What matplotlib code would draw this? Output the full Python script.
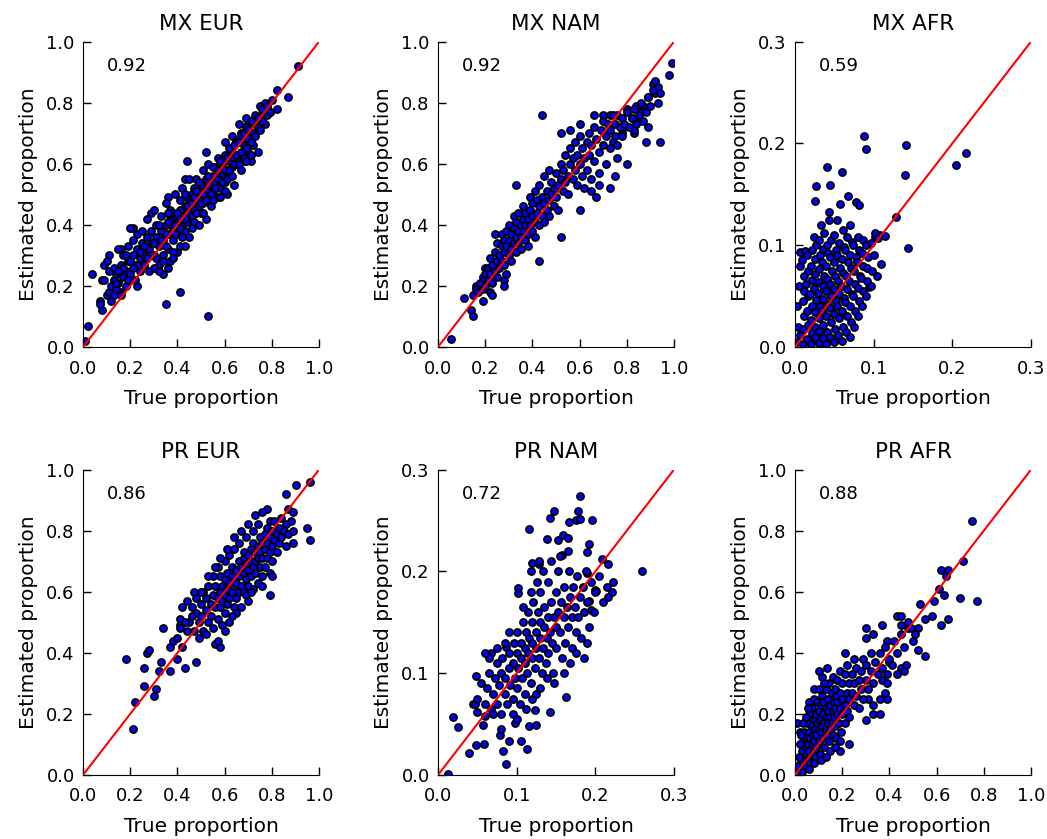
import numpy as np
import matplotlib
matplotlib.use('Agg')
import matplotlib.pyplot as plt

# (true, estimated) proportion pairs, one list per panel
mx_eur = [
    (0.91, 0.92), (0.82, 0.84), (0.87, 0.82), (0.82, 0.78), (0.79, 0.77), (0.77, 0.79), (0.76, 0.76),
    (0.69, 0.75), (0.66, 0.73), (0.70, 0.73), (0.73, 0.73), (0.77, 0.73), (0.63, 0.69), (0.60, 0.67),
    (0.65, 0.67), (0.67, 0.70), (0.71, 0.68), (0.74, 0.64), (0.71, 0.61), (0.68, 0.61), (0.52, 0.64),
    (0.44, 0.61), (0.43, 0.55), (0.36, 0.49), (0.29, 0.44), (0.21, 0.39), (0.16, 0.32), (0.11, 0.30),
    (0.04, 0.24), (0.08, 0.22), (0.07, 0.15), (0.08, 0.12), (0.02, 0.07), (0.01, 0.02), (0.41, 0.18),
    (0.35, 0.14), (0.53, 0.10), (0.23, 0.20), (0.16, 0.18), (0.12, 0.15), (0.10, 0.17),
    (0.07, 0.14), (0.09, 0.22), (0.09, 0.27), (0.10, 0.28), (0.11, 0.18), (0.11, 0.25), (0.12, 0.20),
    (0.13, 0.22), (0.13, 0.26), (0.14, 0.19), (0.14, 0.24), (0.15, 0.21), (0.15, 0.32), (0.16, 0.17),
    (0.16, 0.27), (0.17, 0.23), (0.17, 0.30), (0.18, 0.25), (0.18, 0.20), (0.19, 0.28), (0.19, 0.33),
    (0.20, 0.39), (0.20, 0.24), (0.21, 0.30), (0.21, 0.35), (0.22, 0.27), (0.22, 0.22), (0.23, 0.32),
    (0.23, 0.37), (0.24, 0.29), (0.24, 0.25), (0.25, 0.34), (0.25, 0.38), (0.26, 0.30), (0.26, 0.27),
    (0.27, 0.36), (0.27, 0.42), (0.28, 0.32), (0.28, 0.25), (0.29, 0.38), (0.29, 0.34), (0.30, 0.30),
    (0.30, 0.45), (0.31, 0.36), (0.31, 0.40), (0.32, 0.33), (0.32, 0.27), (0.33, 0.38), (0.33, 0.43),
    (0.34, 0.35), (0.34, 0.30), (0.34, 0.24), (0.35, 0.40), (0.35, 0.47), (0.36, 0.37), (0.36, 0.32),
    (0.37, 0.42), (0.37, 0.45), (0.37, 0.28), (0.38, 0.39), (0.38, 0.35), (0.39, 0.43), (0.39, 0.50),
    (0.40, 0.41), (0.40, 0.37), (0.40, 0.31), (0.41, 0.45), (0.41, 0.48), (0.42, 0.40), (0.42, 0.43),
    (0.42, 0.52), (0.43, 0.38), (0.43, 0.46), (0.44, 0.44), (0.44, 0.49), (0.44, 0.41), (0.45, 0.47),
    (0.45, 0.36), (0.45, 0.55), (0.46, 0.43), (0.46, 0.50), (0.47, 0.45), (0.47, 0.52), (0.47, 0.41),
    (0.48, 0.48), (0.48, 0.55), (0.49, 0.46), (0.49, 0.51), (0.49, 0.40), (0.50, 0.49), (0.50, 0.53),
    (0.50, 0.44), (0.51, 0.58), (0.51, 0.47), (0.52, 0.51), (0.52, 0.55), (0.52, 0.42), (0.53, 0.49),
    (0.53, 0.60), (0.54, 0.53), (0.54, 0.46), (0.55, 0.56), (0.55, 0.51), (0.56, 0.59), (0.56, 0.54),
    (0.57, 0.49), (0.57, 0.62), (0.58, 0.56), (0.58, 0.52), (0.59, 0.60), (0.59, 0.57), (0.60, 0.54),
    (0.60, 0.63), (0.61, 0.58), (0.61, 0.50), (0.62, 0.61), (0.62, 0.56), (0.63, 0.64), (0.63, 0.59),
    (0.64, 0.62), (0.64, 0.53), (0.65, 0.67), (0.65, 0.60), (0.66, 0.63), (0.67, 0.58), (0.67, 0.69),
    (0.68, 0.66), (0.68, 0.62), (0.69, 0.72), (0.70, 0.68), (0.70, 0.64), (0.71, 0.74), (0.72, 0.70),
    (0.72, 0.66), (0.73, 0.76), (0.74, 0.72), (0.75, 0.79), (0.76, 0.74), (0.77, 0.80), (0.78, 0.76),
    (0.80, 0.81), (0.36, 0.41), (0.38, 0.44), (0.39, 0.37), (0.41, 0.39), (0.43, 0.42), (0.43, 0.50),
    (0.44, 0.46), (0.46, 0.47), (0.46, 0.39), (0.47, 0.49), (0.48, 0.44), (0.48, 0.51), (0.49, 0.54),
    (0.50, 0.47), (0.51, 0.50), (0.51, 0.44), (0.52, 0.48), (0.53, 0.53), (0.53, 0.56), (0.54, 0.50),
    (0.55, 0.48), (0.55, 0.59), (0.56, 0.52), (0.57, 0.55), (0.57, 0.58), (0.58, 0.61), (0.58, 0.49),
    (0.59, 0.54), (0.60, 0.58), (0.60, 0.51), (0.61, 0.62), (0.61, 0.55), (0.62, 0.58), (0.62, 0.65),
    (0.63, 0.56), (0.64, 0.60), (0.64, 0.66), (0.65, 0.63), (0.66, 0.60), (0.66, 0.67), (0.67, 0.64),
    (0.68, 0.70), (0.69, 0.65), (0.69, 0.61), (0.70, 0.71), (0.71, 0.67), (0.71, 0.63), (0.73, 0.69),
    (0.74, 0.75), (0.75, 0.71), (0.76, 0.78), (0.78, 0.79), (0.79, 0.77), (0.30, 0.34), (0.31, 0.29),
    (0.33, 0.35), (0.35, 0.33), (0.35, 0.37), (0.36, 0.44), (0.38, 0.31), (0.39, 0.40), (0.40, 0.44),
    (0.41, 0.42), (0.42, 0.36), (0.32, 0.40), (0.29, 0.30), (0.27, 0.29), (0.26, 0.33), (0.24, 0.31),
    (0.23, 0.27), (0.21, 0.26), (0.20, 0.28), (0.19, 0.22), (0.18, 0.30), (0.17, 0.26), (0.15, 0.25),
    (0.14, 0.21), (0.13, 0.17), (0.30, 0.26), (0.32, 0.25), (0.34, 0.28), (0.36, 0.26), (0.38, 0.29),
    (0.41, 0.33), (0.43, 0.33),
]

mx_nam = [
    (0.055, 0.026), (0.11, 0.16), (0.14, 0.12), (0.15, 0.10), (0.19, 0.15), (0.16, 0.20), (0.18, 0.19),
    (0.22, 0.18), (0.23, 0.17), (0.20, 0.26), (0.22, 0.24), (0.28, 0.22), (0.28, 0.20), (0.29, 0.24),
    (0.24, 0.37), (0.33, 0.53), (0.44, 0.76), (0.43, 0.28), (0.52, 0.36), (0.60, 0.45), (0.52, 0.70),
    (0.56, 0.71), (0.60, 0.73), (0.66, 0.76), (0.70, 0.76), (0.73, 0.76), (0.76, 0.76), (0.99, 0.93),
    (0.98, 0.89), (0.91, 0.86), (0.92, 0.83), (0.89, 0.82), (0.93, 0.80), (0.87, 0.79), (0.84, 0.79),
    (0.80, 0.78), (0.86, 0.77), (0.89, 0.72), (0.94, 0.67), (0.88, 0.67), (0.83, 0.70), (0.78, 0.70),
    (0.74, 0.67), (0.80, 0.60), (0.76, 0.62), (0.75, 0.56), (0.73, 0.52), (0.68, 0.53), (0.67, 0.49),
    (0.65, 0.51), (0.82, 0.75), (0.85, 0.74), (0.79, 0.72), (0.83, 0.71),
    (0.15, 0.17), (0.16, 0.19), (0.17, 0.18), (0.18, 0.21), (0.19, 0.19), (0.19, 0.23), (0.20, 0.20),
    (0.20, 0.24), (0.21, 0.22), (0.21, 0.26), (0.22, 0.24), (0.22, 0.29), (0.23, 0.21), (0.23, 0.27),
    (0.24, 0.25), (0.24, 0.31), (0.25, 0.23), (0.25, 0.28), (0.25, 0.34), (0.26, 0.26), (0.26, 0.30),
    (0.27, 0.33), (0.27, 0.28), (0.27, 0.37), (0.28, 0.31), (0.28, 0.35), (0.28, 0.27), (0.29, 0.33),
    (0.29, 0.38), (0.30, 0.30), (0.30, 0.35), (0.30, 0.40), (0.31, 0.32), (0.31, 0.37), (0.31, 0.28),
    (0.32, 0.34), (0.32, 0.39), (0.32, 0.43), (0.33, 0.36), (0.33, 0.31), (0.33, 0.41), (0.34, 0.38),
    (0.34, 0.34), (0.34, 0.44), (0.35, 0.36), (0.35, 0.40), (0.35, 0.32), (0.36, 0.42), (0.36, 0.38),
    (0.36, 0.46), (0.37, 0.35), (0.37, 0.40), (0.37, 0.44), (0.38, 0.37), (0.38, 0.42), (0.38, 0.33),
    (0.39, 0.45), (0.39, 0.40), (0.39, 0.49), (0.40, 0.38), (0.40, 0.43), (0.40, 0.47), (0.41, 0.41),
    (0.41, 0.36), (0.41, 0.51), (0.42, 0.44), (0.42, 0.48), (0.43, 0.40), (0.43, 0.46), (0.43, 0.53),
    (0.44, 0.43), (0.44, 0.49), (0.45, 0.47), (0.45, 0.41), (0.45, 0.56), (0.46, 0.45), (0.46, 0.51),
    (0.47, 0.48), (0.47, 0.43), (0.47, 0.58), (0.48, 0.50), (0.48, 0.54), (0.49, 0.46), (0.49, 0.52),
    (0.50, 0.49), (0.50, 0.57), (0.51, 0.53), (0.51, 0.45), (0.52, 0.55), (0.52, 0.60), (0.53, 0.51),
    (0.53, 0.58), (0.54, 0.54), (0.54, 0.63), (0.55, 0.56), (0.55, 0.50), (0.56, 0.60), (0.56, 0.65),
    (0.57, 0.55), (0.57, 0.62), (0.58, 0.58), (0.58, 0.67), (0.59, 0.53), (0.59, 0.63), (0.60, 0.60),
    (0.60, 0.69), (0.61, 0.56), (0.61, 0.65), (0.62, 0.62), (0.62, 0.52), (0.63, 0.67), (0.63, 0.58),
    (0.64, 0.70), (0.64, 0.63), (0.65, 0.55), (0.65, 0.66), (0.66, 0.72), (0.66, 0.61), (0.67, 0.68),
    (0.68, 0.57), (0.68, 0.64), (0.69, 0.71), (0.70, 0.66), (0.70, 0.74), (0.71, 0.60), (0.71, 0.69),
    (0.72, 0.73), (0.73, 0.65), (0.73, 0.71), (0.74, 0.76), (0.75, 0.69), (0.75, 0.73), (0.76, 0.66),
    (0.77, 0.72), (0.78, 0.75), (0.78, 0.69), (0.79, 0.73), (0.80, 0.77), (0.81, 0.72), (0.82, 0.75),
    (0.83, 0.78), (0.84, 0.73), (0.85, 0.76), (0.86, 0.80), (0.87, 0.74), (0.88, 0.77), (0.89, 0.82),
    (0.90, 0.79), (0.91, 0.84), (0.92, 0.87), (0.93, 0.85), (0.94, 0.83),
]

mx_afr = [
    (0.088, 0.207), (0.090, 0.194), (0.141, 0.198), (0.140, 0.169), (0.143, 0.097), (0.205, 0.179),
    (0.217, 0.191), (0.128, 0.128), (0.041, 0.177), (0.060, 0.172), (0.027, 0.158), (0.045, 0.159),
    (0.026, 0.143), (0.057, 0.140), (0.067, 0.148), (0.078, 0.142), (0.081, 0.139), (0.043, 0.133),
    (0.108, 0.110), (0.115, 0.109), (0.102, 0.108), (0.109, 0.082), (0.104, 0.070), (0.094, 0.059),
    (0.006, 0.093), (0.013, 0.094), (0.006, 0.080),
    (0.003, 0.005), (0.004, 0.020), (0.003, 0.040), (0.005, 0.060), (0.006, 0.012),
    (0.010, 0.003), (0.010, 0.018), (0.011, 0.030), (0.010, 0.045), (0.012, 0.055), (0.011, 0.070),
    (0.009, 0.085), (0.015, 0.008), (0.016, 0.022), (0.015, 0.035), (0.016, 0.050), (0.014, 0.062),
    (0.017, 0.075), (0.015, 0.090), (0.020, 0.003), (0.021, 0.014), (0.020, 0.027), (0.022, 0.040),
    (0.019, 0.052), (0.021, 0.066), (0.020, 0.080), (0.022, 0.095), (0.024, 0.108), (0.025, 0.010),
    (0.026, 0.020), (0.025, 0.034), (0.027, 0.046), (0.024, 0.058), (0.026, 0.072), (0.025, 0.086),
    (0.027, 0.100), (0.030, 0.004), (0.031, 0.016), (0.030, 0.028), (0.032, 0.040), (0.029, 0.053),
    (0.031, 0.064), (0.030, 0.077), (0.032, 0.090), (0.031, 0.105), (0.033, 0.120), (0.035, 0.009),
    (0.036, 0.022), (0.034, 0.035), (0.036, 0.047), (0.035, 0.060), (0.037, 0.070), (0.034, 0.083),
    (0.036, 0.096), (0.037, 0.112), (0.040, 0.003), (0.041, 0.015), (0.040, 0.030), (0.042, 0.042),
    (0.039, 0.055), (0.041, 0.067), (0.040, 0.080), (0.042, 0.092), (0.041, 0.100), (0.043, 0.125),
    (0.045, 0.010), (0.046, 0.025), (0.044, 0.038), (0.046, 0.050), (0.045, 0.062), (0.047, 0.075),
    (0.044, 0.088), (0.046, 0.105), (0.050, 0.005), (0.051, 0.018), (0.050, 0.032), (0.052, 0.045),
    (0.049, 0.057), (0.051, 0.070), (0.050, 0.083), (0.052, 0.095), (0.050, 0.110), (0.053, 0.125),
    (0.055, 0.012), (0.056, 0.028), (0.054, 0.040), (0.056, 0.052), (0.055, 0.065), (0.057, 0.078),
    (0.054, 0.090), (0.056, 0.102), (0.060, 0.006), (0.061, 0.020), (0.060, 0.035), (0.062, 0.048),
    (0.059, 0.060), (0.061, 0.073), (0.060, 0.086), (0.062, 0.098), (0.061, 0.115), (0.065, 0.015),
    (0.066, 0.030), (0.064, 0.044), (0.066, 0.057), (0.065, 0.070), (0.067, 0.083), (0.064, 0.095),
    (0.066, 0.108), (0.070, 0.010), (0.071, 0.025), (0.070, 0.040), (0.072, 0.052), (0.069, 0.065),
    (0.071, 0.078), (0.070, 0.090), (0.072, 0.103), (0.070, 0.120), (0.075, 0.020), (0.076, 0.035),
    (0.074, 0.050), (0.076, 0.062), (0.075, 0.075), (0.077, 0.088), (0.074, 0.100), (0.080, 0.030),
    (0.081, 0.045), (0.080, 0.058), (0.082, 0.070), (0.079, 0.083), (0.081, 0.095), (0.080, 0.108),
    (0.085, 0.040), (0.086, 0.055), (0.084, 0.068), (0.086, 0.080), (0.085, 0.092), (0.087, 0.105),
    (0.090, 0.050), (0.092, 0.065), (0.091, 0.078), (0.093, 0.088), (0.090, 0.100), (0.096, 0.060),
    (0.098, 0.075), (0.100, 0.090), (0.097, 0.102), (0.102, 0.112), (0.105, 0.107),
]

pr_eur = [
    (0.96, 0.96), (0.90, 0.95), (0.86, 0.92), (0.78, 0.87), (0.87, 0.87), (0.89, 0.86), (0.95, 0.81),
    (0.96, 0.77), (0.89, 0.76), (0.79, 0.83), (0.18, 0.38), (0.21, 0.15), (0.22, 0.24), (0.26, 0.35),
    (0.27, 0.40), (0.28, 0.41), (0.26, 0.29), (0.30, 0.26), (0.31, 0.28), (0.32, 0.34), (0.33, 0.37),
    (0.37, 0.34), (0.37, 0.42), (0.38, 0.44), (0.40, 0.45), (0.40, 0.38), (0.42, 0.42), (0.43, 0.35),
    (0.48, 0.37), (0.34, 0.48), (0.41, 0.51), (0.41, 0.49), (0.56, 0.43), (0.58, 0.42), (0.79, 0.59),
    (0.45, 0.50), (0.46, 0.55), (0.47, 0.47), (0.48, 0.53), (0.48, 0.58), (0.49, 0.50), (0.50, 0.56),
    (0.50, 0.52), (0.51, 0.60), (0.51, 0.47), (0.52, 0.54), (0.52, 0.58), (0.53, 0.50), (0.53, 0.62),
    (0.54, 0.56), (0.54, 0.52), (0.55, 0.59), (0.55, 0.65), (0.55, 0.48), (0.56, 0.55), (0.56, 0.62),
    (0.57, 0.58), (0.57, 0.51), (0.57, 0.68), (0.58, 0.60), (0.58, 0.55), (0.58, 0.65), (0.59, 0.62),
    (0.59, 0.49), (0.59, 0.57), (0.60, 0.64), (0.60, 0.59), (0.60, 0.70), (0.60, 0.53), (0.61, 0.61),
    (0.61, 0.66), (0.61, 0.56), (0.62, 0.63), (0.62, 0.58), (0.62, 0.72), (0.62, 0.50), (0.63, 0.65),
    (0.63, 0.60), (0.63, 0.68), (0.64, 0.62), (0.64, 0.55), (0.64, 0.74), (0.65, 0.67), (0.65, 0.63),
    (0.65, 0.58), (0.66, 0.70), (0.66, 0.65), (0.66, 0.60), (0.66, 0.76), (0.67, 0.68), (0.67, 0.62),
    (0.67, 0.55), (0.68, 0.71), (0.68, 0.66), (0.68, 0.73), (0.68, 0.60), (0.69, 0.69), (0.69, 0.64),
    (0.69, 0.78), (0.70, 0.72), (0.70, 0.67), (0.70, 0.62), (0.70, 0.57), (0.71, 0.74), (0.71, 0.70),
    (0.71, 0.65), (0.72, 0.76), (0.72, 0.68), (0.72, 0.61), (0.72, 0.80), (0.73, 0.73), (0.73, 0.70),
    (0.73, 0.66), (0.74, 0.75), (0.74, 0.71), (0.74, 0.63), (0.74, 0.82), (0.75, 0.78), (0.75, 0.73),
    (0.75, 0.68), (0.76, 0.76), (0.76, 0.71), (0.76, 0.65), (0.77, 0.79), (0.77, 0.74), (0.77, 0.68),
    (0.78, 0.81), (0.78, 0.76), (0.78, 0.71), (0.79, 0.78), (0.79, 0.73), (0.79, 0.66), (0.80, 0.80),
    (0.80, 0.75), (0.80, 0.70), (0.81, 0.83), (0.81, 0.77), (0.82, 0.79), (0.82, 0.73), (0.83, 0.81),
    (0.83, 0.76), (0.84, 0.84), (0.84, 0.78), (0.85, 0.80), (0.86, 0.82), (0.86, 0.75), (0.87, 0.79),
    (0.88, 0.83), (0.89, 0.80), (0.69, 0.59), (0.65, 0.53), (0.71, 0.60), (0.60, 0.47), (0.63, 0.52),
    (0.57, 0.44), (0.76, 0.62), (0.80, 0.65), (0.58, 0.71), (0.61, 0.74), (0.56, 0.68), (0.53, 0.65),
    (0.64, 0.78), (0.67, 0.80), (0.70, 0.82), (0.73, 0.85), (0.76, 0.86), (0.42, 0.55), (0.43, 0.50),
    (0.44, 0.57), (0.46, 0.52), (0.47, 0.60), (0.44, 0.47), (0.41, 0.48), (0.49, 0.45), (0.52, 0.46),
    (0.50, 0.60),
]

pr_nam = [
    (0.013, 0.001), (0.019, 0.057), (0.025, 0.047), (0.039, 0.022), (0.048, 0.029), (0.058, 0.030),
    (0.083, 0.024), (0.086, 0.011), (0.090, 0.033), (0.105, 0.033), (0.113, 0.026), (0.079, 0.039),
    (0.116, 0.048), (0.125, 0.049), (0.098, 0.051), (0.044, 0.070), (0.047, 0.070), (0.050, 0.062),
    (0.060, 0.058), (0.057, 0.049), (0.048, 0.097), (0.068, 0.120), (0.087, 0.126), (0.102, 0.179),
    (0.102, 0.184), (0.116, 0.242), (0.119, 0.208), (0.129, 0.207), (0.138, 0.232), (0.142, 0.252),
    (0.148, 0.259), (0.152, 0.231), (0.159, 0.236), (0.165, 0.233), (0.157, 0.216), (0.167, 0.248),
    (0.176, 0.250), (0.180, 0.251), (0.178, 0.259), (0.181, 0.274), (0.196, 0.250), (0.192, 0.227),
    (0.190, 0.219), (0.190, 0.198), (0.209, 0.212), (0.216, 0.207), (0.222, 0.190), (0.221, 0.180),
    (0.216, 0.175), (0.199, 0.182), (0.201, 0.181), (0.259, 0.200), (0.192, 0.171), (0.194, 0.162),
    (0.163, 0.077), (0.142, 0.062), (0.123, 0.064),
    (0.050, 0.075), (0.055, 0.090), (0.060, 0.070), (0.062, 0.085), (0.065, 0.100), (0.068, 0.065),
    (0.070, 0.080), (0.072, 0.095), (0.075, 0.110), (0.075, 0.070), (0.078, 0.088), (0.080, 0.100),
    (0.080, 0.060), (0.082, 0.115), (0.085, 0.080), (0.085, 0.095), (0.088, 0.070), (0.090, 0.105),
    (0.090, 0.120), (0.092, 0.088), (0.095, 0.075), (0.095, 0.110), (0.097, 0.130), (0.098, 0.095),
    (0.100, 0.085), (0.100, 0.120), (0.100, 0.140), (0.102, 0.105), (0.104, 0.070), (0.105, 0.115),
    (0.105, 0.130), (0.107, 0.095), (0.108, 0.150), (0.110, 0.110), (0.110, 0.125), (0.110, 0.080),
    (0.112, 0.140), (0.113, 0.100), (0.115, 0.120), (0.115, 0.160), (0.116, 0.135), (0.118, 0.090),
    (0.120, 0.115), (0.120, 0.130), (0.120, 0.150), (0.121, 0.170), (0.123, 0.105), (0.124, 0.140),
    (0.125, 0.125), (0.125, 0.080), (0.127, 0.160), (0.128, 0.115), (0.130, 0.135), (0.130, 0.150),
    (0.130, 0.180), (0.132, 0.100), (0.133, 0.125), (0.135, 0.145), (0.135, 0.165), (0.137, 0.110),
    (0.138, 0.135), (0.140, 0.155), (0.140, 0.120), (0.140, 0.190), (0.142, 0.140), (0.144, 0.170),
    (0.145, 0.130), (0.146, 0.100), (0.147, 0.155), (0.150, 0.145), (0.150, 0.180), (0.150, 0.125),
    (0.152, 0.200), (0.153, 0.160), (0.155, 0.140), (0.156, 0.170), (0.158, 0.115), (0.160, 0.155),
    (0.160, 0.185), (0.162, 0.130), (0.164, 0.165), (0.165, 0.145), (0.167, 0.200), (0.168, 0.175),
    (0.170, 0.155), (0.170, 0.125), (0.172, 0.185), (0.174, 0.165), (0.175, 0.140), (0.177, 0.195),
    (0.178, 0.155), (0.180, 0.175), (0.182, 0.135), (0.184, 0.185), (0.185, 0.160), (0.188, 0.200),
    (0.190, 0.170), (0.192, 0.145), (0.195, 0.190), (0.198, 0.160), (0.200, 0.180), (0.205, 0.195),
    (0.210, 0.170), (0.215, 0.185), (0.108, 0.165), (0.118, 0.180), (0.126, 0.190), (0.134, 0.200),
    (0.143, 0.210), (0.155, 0.215), (0.165, 0.220), (0.128, 0.210), (0.118, 0.200), (0.085, 0.130),
    (0.090, 0.140), (0.075, 0.125), (0.065, 0.115), (0.060, 0.120), (0.070, 0.060), (0.080, 0.045),
    (0.095, 0.060), (0.100, 0.055), (0.112, 0.065), (0.120, 0.075), (0.130, 0.085), (0.138, 0.095),
    (0.148, 0.090), (0.160, 0.100), (0.168, 0.110), (0.175, 0.120), (0.185, 0.115), (0.190, 0.130),
]

pr_afr = [
    (0.75, 0.83), (0.71, 0.70), (0.77, 0.57), (0.70, 0.58), (0.65, 0.67), (0.62, 0.67), (0.64, 0.65),
    (0.61, 0.61), (0.63, 0.59), (0.59, 0.57), (0.65, 0.51), (0.62, 0.49), (0.58, 0.52), (0.55, 0.51),
    (0.53, 0.56), (0.55, 0.39), (0.52, 0.41), (0.43, 0.52), (0.45, 0.52), (0.37, 0.49), (0.30, 0.48),
    (0.30, 0.45), (0.33, 0.46), (0.39, 0.44), (0.45, 0.49), (0.48, 0.48), (0.49, 0.48), (0.52, 0.48),
    (0.51, 0.46), (0.21, 0.40), (0.10, 0.34), (0.06, 0.24), (0.08, 0.28), (0.01, 0.17), (0.02, 0.14),
    (0.30, 0.18), (0.33, 0.20), (0.36, 0.20), (0.23, 0.10), (0.19, 0.08), (0.40, 0.37), (0.41, 0.36),
    (0.45, 0.35), (0.47, 0.36), (0.46, 0.34), (0.43, 0.33), (0.39, 0.33), (0.37, 0.31), (0.39, 0.25),
    (0.36, 0.25), (0.38, 0.27), (0.33, 0.23), (0.31, 0.25),
    (0.020, 0.02), (0.025, 0.05), (0.030, 0.01), (0.030, 0.08), (0.035, 0.04), (0.035, 0.11),
    (0.040, 0.06), (0.040, 0.14), (0.045, 0.09), (0.045, 0.03), (0.050, 0.12), (0.050, 0.07),
    (0.050, 0.17), (0.055, 0.10), (0.055, 0.05), (0.060, 0.14), (0.060, 0.08), (0.060, 0.20),
    (0.065, 0.12), (0.065, 0.04), (0.070, 0.16), (0.070, 0.10), (0.070, 0.22), (0.075, 0.13),
    (0.075, 0.07), (0.080, 0.18), (0.080, 0.11), (0.080, 0.25), (0.085, 0.15), (0.085, 0.06),
    (0.090, 0.20), (0.090, 0.13), (0.090, 0.09), (0.095, 0.17), (0.095, 0.24), (0.100, 0.15),
    (0.100, 0.21), (0.100, 0.11), (0.100, 0.28), (0.105, 0.18), (0.105, 0.07), (0.110, 0.14),
    (0.110, 0.23), (0.110, 0.19), (0.115, 0.16), (0.115, 0.26), (0.120, 0.12), (0.120, 0.20),
    (0.120, 0.24), (0.125, 0.17), (0.125, 0.09), (0.130, 0.22), (0.130, 0.15), (0.130, 0.28),
    (0.135, 0.19), (0.135, 0.13), (0.140, 0.25), (0.140, 0.17), (0.140, 0.21), (0.145, 0.11),
    (0.145, 0.30), (0.150, 0.19), (0.150, 0.23), (0.150, 0.15), (0.155, 0.27), (0.155, 0.17),
    (0.160, 0.21), (0.160, 0.13), (0.160, 0.32), (0.165, 0.24), (0.165, 0.19), (0.170, 0.16),
    (0.170, 0.28), (0.170, 0.22), (0.175, 0.26), (0.175, 0.12), (0.180, 0.20), (0.180, 0.31),
    (0.180, 0.24), (0.185, 0.17), (0.190, 0.27), (0.190, 0.22), (0.190, 0.34), (0.195, 0.14),
    (0.200, 0.25), (0.200, 0.20), (0.200, 0.30), (0.210, 0.23), (0.210, 0.33), (0.210, 0.17),
    (0.220, 0.27), (0.220, 0.21), (0.220, 0.36), (0.230, 0.30), (0.230, 0.25), (0.230, 0.19),
    (0.240, 0.33), (0.240, 0.27), (0.250, 0.23), (0.250, 0.30), (0.250, 0.38), (0.260, 0.26),
    (0.260, 0.35), (0.270, 0.31), (0.270, 0.22), (0.280, 0.34), (0.280, 0.28), (0.290, 0.38),
    (0.290, 0.25), (0.300, 0.31), (0.300, 0.36), (0.310, 0.28), (0.320, 0.34), (0.320, 0.40),
    (0.330, 0.30), (0.340, 0.37), (0.350, 0.33), (0.360, 0.40), (0.370, 0.35), (0.380, 0.42),
    (0.390, 0.30), (0.400, 0.38), (0.420, 0.44), (0.430, 0.40), (0.450, 0.46), (0.460, 0.42),
    (0.480, 0.50), (0.500, 0.44), (0.060, 0.02), (0.080, 0.04), (0.110, 0.05), (0.130, 0.06),
    (0.150, 0.08), (0.170, 0.09), (0.190, 0.11), (0.115, 0.32), (0.125, 0.30), (0.135, 0.35),
    (0.045, 0.19), (0.055, 0.22), (0.035, 0.17), (0.020, 0.10), (0.025, 0.13), (0.015, 0.06),
    (0.010, 0.03), (0.005, 0.005),
]

panels = [
    ('MX EUR', mx_eur, 1.0, '0.92'),
    ('MX NAM', mx_nam, 1.0, '0.92'),
    ('MX AFR', mx_afr, 0.3, '0.59'),
    ('PR EUR', pr_eur, 1.0, '0.86'),
    ('PR NAM', pr_nam, 0.3, '0.72'),
    ('PR AFR', pr_afr, 1.0, '0.88'),
]

fig = plt.figure(figsize=(10.47, 8.39), dpi=100)
lefts = [0.0793, 0.4183, 0.7593]
bottoms = [0.5864, 0.0763]
width = 0.2255
height = 0.3641

for i, (title, pts, lim, r2) in enumerate(panels):
    ax = fig.add_axes([lefts[i % 3], bottoms[i // 3], width, height])
    xy = np.array(pts)
    ax.scatter(xy[:, 0], xy[:, 1], s=26, c='#0000ff', edgecolors='black', linewidths=1.25, zorder=2)
    ax.plot([0, lim], [0, lim], color='red', linewidth=1.5, zorder=3)
    ax.set_xlim(0, lim)
    ax.set_ylim(0, lim)
    step = 0.2 if lim == 1.0 else 0.1
    ticks = np.round(np.arange(0, lim + step / 2, step), 1)
    ax.set_xticks(ticks)
    ax.set_yticks(ticks)
    ax.set_xticklabels([f'{t:.1f}' for t in ticks])
    ax.set_yticklabels([f'{t:.1f}' for t in ticks])
    ax.spines['top'].set_visible(False)
    ax.spines['right'].set_visible(False)
    ax.tick_params(direction='in', length=6, width=1, labelsize=13, top=False, right=False)
    ax.tick_params(axis='x', pad=9)
    ax.tick_params(axis='y', pad=6)
    ax.set_title(title, fontsize=15.5, pad=8)
    ax.set_xlabel('True proportion', fontsize=14.5, labelpad=8)
    ax.set_ylabel('Estimated proportion', fontsize=14.5, labelpad=6)
    ax.text(0.1, 0.92, r2, transform=ax.transAxes, fontsize=13, va='center', ha='left')

fig.savefig('out.png', dpi=100)
